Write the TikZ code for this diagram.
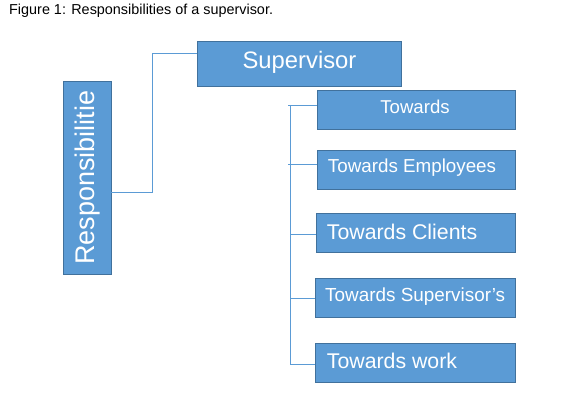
\documentclass[tikz,border=0pt]{standalone}
\usepackage{fontspec}
\setmainfont{Liberation Sans}
\definecolor{boxfill}{HTML}{5B9BD5}
\definecolor{boxline}{HTML}{41719C}
\definecolor{conn}{HTML}{5B9BD5}
\begin{document}
\begin{tikzpicture}[x=1pt,y=-1pt,
  box/.style={draw=boxline,line width=0.9pt,fill=boxfill,rectangle,inner sep=0pt},
  txt/.style={text=white,inner sep=0pt},
  conn/.style={draw=conn,line width=1pt}]
\useasboundingbox (0,0) rectangle (578,416);
\node[anchor=base west,inner sep=0pt,font=\fontsize{14.4}{16}\selectfont] (cap) at (9,14) {Figure 1: Responsibilities of a supervisor.};
% boxes
\node[box,minimum width=48pt,minimum height=192.5pt] (resp) at (87,177.75) {};
\node[txt,rotate=90,font=\fontsize{27}{30}\selectfont] (resptxt) at (88,177.5) {Responsibilitie};
\node[box,minimum width=204.4pt,minimum height=45pt] (sup) at (299.5,63.8) {};
\node[txt,anchor=base,font=\fontsize{23.8}{26}\selectfont] (suptxt) at (299.5,68.3) {Supervisor};
\node[box,minimum width=197.7pt,minimum height=38.6pt] (b1) at (416.2,110) {};
\node[txt,anchor=base,font=\fontsize{18.6}{20}\selectfont] (b1txt) at (415,113.3) {Towards};
\node[box,minimum width=198pt,minimum height=39pt] (b2) at (416,169.5) {};
\node[txt,anchor=base west,font=\fontsize{18.8}{20}\selectfont] (b2txt) at (327.7,172.3) {Towards Employees};
\node[box,minimum width=199.7pt,minimum height=39pt] (b3) at (415.85,232.8) {};
\node[txt,anchor=base west,font=\fontsize{21.3}{24}\selectfont] (b3txt) at (326.7,239) {Towards Clients};
\node[box,minimum width=200.4pt,minimum height=38.6pt] (b4) at (415.5,298) {};
\node[txt,anchor=base west,font=\fontsize{18.9}{20}\selectfont] (b4txt) at (325,301.7) {Towards Supervisor’s};
\node[box,minimum width=200.4pt,minimum height=39pt] (b5) at (415.5,362.8) {};
\node[txt,anchor=base west,font=\fontsize{21.3}{24}\selectfont] (b5txt) at (326.7,368.3) {Towards work};
% connectors
\coordinate (e1) at (152.3,192.7);
\coordinate (e2) at (152.3,53.3);
\draw[conn] (resp.east |- e1) -- (e1) -- (e2) -- (sup.west |- e2);
\coordinate (t1) at (290,105);
\coordinate (t5) at (290,364);
\draw[conn] (t1) -- (t5) -- (b5.west |- t5);
\coordinate (s1) at (288,105);
\coordinate (s2) at (288,164.3);
\coordinate (s3) at (290,234.3);
\coordinate (s4) at (290,298.3);
\draw[conn] (s1) -- (b1.west |- s1);
\draw[conn] (s2) -- (b2.west |- s2);
\draw[conn] (s3) -- (b3.west |- s3);
\draw[conn] (s4) -- (b4.west |- s4);
\end{tikzpicture}
\end{document}
